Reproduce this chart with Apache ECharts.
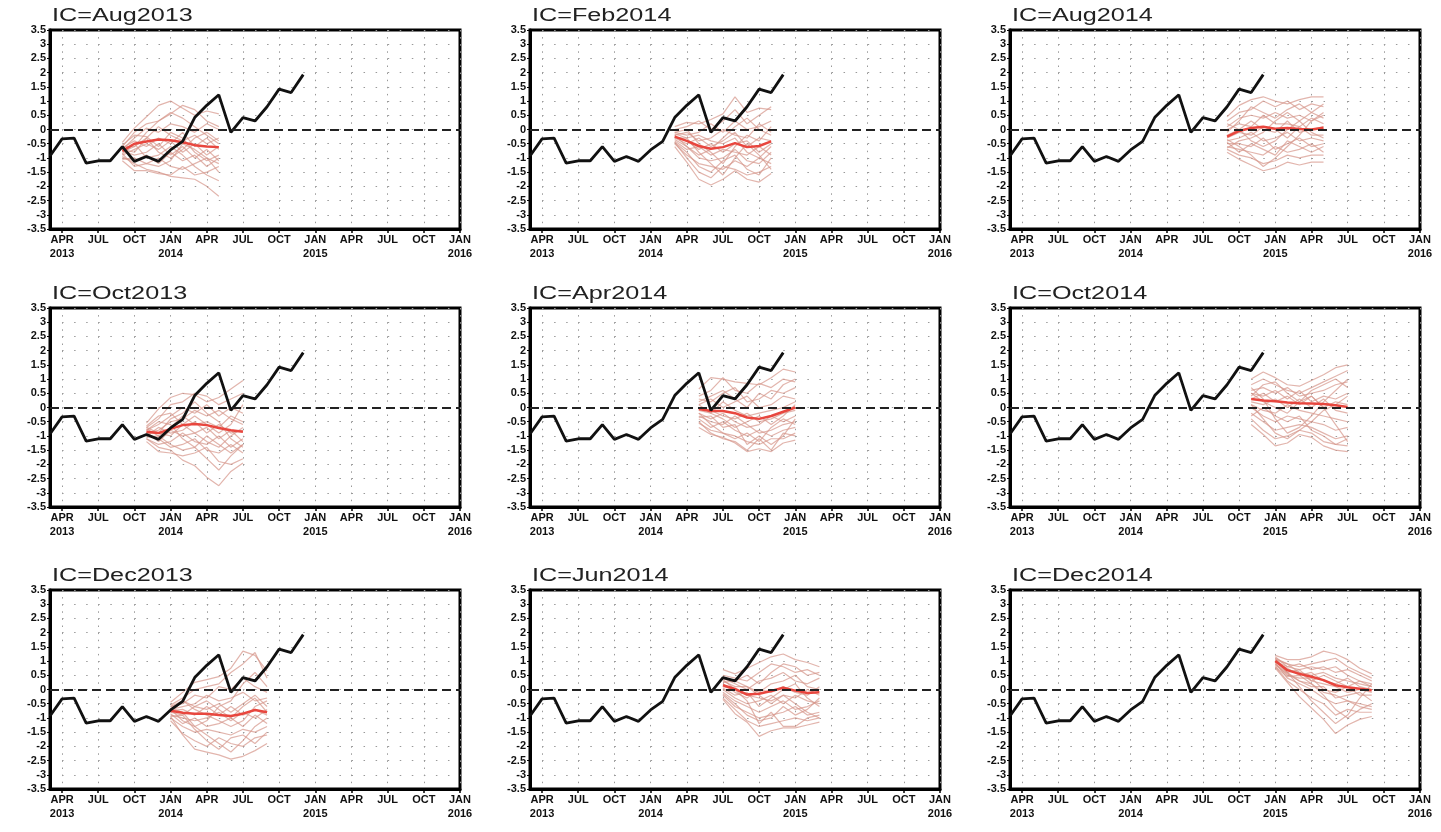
<!DOCTYPE html>
<html>
<head>
<meta charset="UTF-8">
<title>IC ensemble plumes</title>
<script src="https://cdn.jsdelivr.net/npm/echarts@6/dist/echarts.min.js"></script>
<style>
  html, body { margin: 0; padding: 0; background: #fff; }
  #main { width: 1441px; height: 832px; }
</style>
</head>
<body>
<div id="main"></div>
<script>
// months on the x axis, Mar 2013 .. Jan 2016
var months = ['Mar2013','Apr2013','May2013','Jun2013','Jul2013','Aug2013','Sep2013','Oct2013','Nov2013','Dec2013',
  'Jan2014','Feb2014','Mar2014','Apr2014','May2014','Jun2014','Jul2014','Aug2014','Sep2014','Oct2014','Nov2014','Dec2014',
  'Jan2015','Feb2015','Mar2015','Apr2015','May2015','Jun2015','Jul2015','Aug2015','Sep2015','Oct2015','Nov2015','Dec2015',
  'Jan2016'];
// labels shown at every 3rd month starting with Apr 2013
var tickLabels = ['APR\n2013','JUL','OCT','JAN\n2014','APR','JUL','OCT','JAN\n2015','APR','JUL','OCT','JAN\n2016'];

// observed index, Mar 2013 .. Dec 2014
var obs = [-0.93, -0.33, -0.30, -1.18, -1.10, -1.10, -0.60, -1.12, -0.95, -1.12, -0.72,
  -0.42, 0.42, 0.85, 1.22, -0.10, 0.42, 0.30, 0.80, 1.42, 1.30, 1.93];

// panels in reading order, first forecast month index into months
var icNames = ['IC=Aug2013','IC=Feb2014','IC=Aug2014','IC=Oct2013','IC=Apr2014','IC=Oct2014','IC=Dec2013','IC=Jun2014','IC=Dec2014'];
var icStart = [6, 12, 18, 8, 14, 20, 10, 16, 22];

// ensemble means (9 lead months)
var meanAug2013 = [-0.75, -0.5, -0.42, -0.35, -0.38, -0.45, -0.55, -0.6, -0.62];
var meanOct2013 = [-0.85, -0.9, -0.75, -0.62, -0.58, -0.62, -0.72, -0.8, -0.85];
var meanDec2013 = [-0.75, -0.82, -0.85, -0.85, -0.9, -0.93, -0.85, -0.72, -0.8];
var meanFeb2014 = [-0.25, -0.4, -0.58, -0.68, -0.62, -0.48, -0.62, -0.58, -0.42];
var meanApr2014 = [-0.05, -0.12, -0.12, -0.2, -0.35, -0.4, -0.3, -0.15, 0.0];
var meanJun2014 = [0.15, 0.02, -0.18, -0.15, -0.05, 0.06, -0.04, -0.12, -0.1];
var meanAug2014 = [-0.25, -0.05, 0.05, 0.1, 0.03, 0.05, 0.02, 0.0, 0.06];
var meanOct2014 = [0.3, 0.25, 0.22, 0.18, 0.15, 0.14, 0.12, 0.08, 0.02];
var meanDec2014 = [1.0, 0.68, 0.55, 0.45, 0.33, 0.15, 0.08, 0.03, -0.03];

// ensemble members (estimated from the plume)
var membersAug2013 = [
  [-0.45, 0.05, 0.45, 0.85, 1.0, 0.75, 0.5, 0.65, 0.55],
  [-0.6, -0.1, 0.2, 0.3, 0.55, 0.85, 0.7, 0.3, 0.1],
  [-0.7, -0.3, 0.05, -0.1, 0.2, 0.1, -0.1, 0.2, 0.0],
  [-0.8, -0.6, -0.3, 0.1, -0.2, -0.4, -0.2, -0.5, -0.3],
  [-0.65, -0.4, -0.6, -0.3, -0.5, -0.1, -0.6, -0.3, -0.7],
  [-0.9, -0.7, -0.5, -0.7, -0.4, -0.8, -0.5, -0.9, -0.6],
  [-0.75, -0.9, -0.8, -0.5, -0.9, -0.6, -1.0, -0.7, -1.1],
  [-1.0, -1.1, -0.9, -1.2, -0.8, -1.1, -0.9, -1.3, -1.0],
  [-0.85, -1.3, -1.2, -1.0, -1.3, -1.4, -1.2, -1.0, -1.5],
  [-1.1, -1.45, -1.45, -1.55, -1.6, -1.3, -1.6, -1.5, -1.3],
  [-0.95, -1.2, -1.4, -1.5, -1.65, -1.7, -1.75, -2.0, -2.35],
  [-0.55, -0.2, -0.25, -0.6, -0.1, -0.3, -0.8, -1.1, -0.9],
  [-0.7, -0.8, -0.3, -0.8, -1.0, -0.7, -0.3, -0.1, -0.4],
  [-0.85, -0.5, -1.0, -0.9, -0.6, -0.9, -1.3, -1.6, -1.8],
  [-0.6, -0.6, -0.1, 0.3, 0.6, 0.4, 0.1, -0.2, -0.5],
  [-1.05, -1.0, -1.2, -1.3, -1.1, -0.5, -0.7, -1.0, -1.2]
];
var membersOct2013 = [
  [-0.55, -0.05, 0.35, 0.5, 0.45, 0.2, 0.35, 0.65, 0.95],
  [-0.7, -0.4, 0.1, 0.2, 0.5, 0.4, 0.1, 0.3, 0.5],
  [-0.8, -0.6, -0.3, 0.0, -0.2, 0.1, -0.3, 0.0, -0.2],
  [-0.9, -0.8, -0.5, -0.4, -0.1, -0.3, -0.1, -0.4, -0.6],
  [-0.75, -1.0, -0.7, -0.3, -0.6, -0.5, -0.7, -0.3, -0.5],
  [-1.0, -0.7, -0.9, -0.8, -0.5, -0.9, -0.6, -0.9, -0.8],
  [-0.85, -1.2, -0.8, -1.0, -0.9, -0.7, -1.1, -0.8, -1.2],
  [-1.1, -1.3, -1.2, -0.9, -1.2, -1.3, -1.0, -1.4, -1.1],
  [-0.95, -1.1, -1.4, -1.3, -1.1, -1.5, -1.6, -1.3, -1.6],
  [-1.2, -1.55, -1.6, -1.7, -1.6, -1.4, -1.9, -2.0, -1.8],
  [-1.1, -1.4, -1.5, -1.85, -2.05, -2.45, -2.75, -2.25, -1.95],
  [-0.65, -0.3, -0.2, -0.6, -0.9, -1.2, -1.4, -1.0, -0.7],
  [-0.8, -0.5, -0.6, -1.1, -1.4, -1.8, -2.2, -1.7, -1.3],
  [-0.9, -0.9, -1.0, -0.6, -0.3, -0.6, -0.9, -0.6, 0.1],
  [-0.7, -0.9, -0.4, -0.2, 0.2, -0.2, -0.5, -1.1, -1.4],
  [-1.05, -1.0, -1.3, -1.5, -1.4, -1.0, -1.3, -1.6, -1.3]
];
var membersDec2013 = [
  [-0.45, -0.1, 0.25, 0.35, 0.45, 0.75, 1.35, 1.2, 0.65],
  [-0.55, -0.3, 0.0, 0.1, 0.2, 0.6, 0.9, 1.3, 0.4],
  [-0.6, -0.5, -0.2, -0.3, 0.1, 0.0, 0.4, 0.1, -0.1],
  [-0.7, -0.6, -0.5, -0.2, -0.4, -0.3, -0.1, -0.4, -0.3],
  [-0.8, -0.9, -0.6, -0.7, -0.5, -0.8, -0.5, -0.2, -0.6],
  [-0.75, -0.7, -0.9, -0.6, -0.9, -0.6, -0.9, -0.7, -0.9],
  [-0.9, -1.0, -1.1, -1.0, -0.8, -1.1, -0.8, -1.0, -0.7],
  [-0.85, -1.2, -1.0, -1.3, -1.2, -1.0, -1.3, -0.9, -1.2],
  [-1.0, -1.3, -1.5, -1.4, -1.5, -1.6, -1.4, -1.5, -1.3],
  [-1.1, -1.55, -1.8, -2.0, -1.7, -1.9, -2.0, -1.7, -1.6],
  [-0.95, -1.6, -2.1, -2.2, -2.3, -2.45, -2.35, -2.15, -1.9],
  [-0.65, -0.8, -1.3, -1.6, -1.9, -2.2, -1.8, -1.3, -1.0],
  [-0.8, -0.4, -0.7, -0.9, -1.1, -1.3, -1.1, -0.6, -0.4],
  [-0.7, -1.1, -1.3, -1.1, -0.6, -0.4, 0.2, 0.6, 0.1],
  [-0.95, -0.9, -1.4, -1.8, -2.1, -1.7, -1.6, -1.9, -1.5],
  [-0.6, -0.4, -0.6, -0.4, -0.7, -1.0, -0.6, -0.3, -0.8]
];
var membersFeb2014 = [
  [0.1, 0.25, 0.2, 0.35, 0.55, 1.15, 0.6, 0.75, 0.7],
  [0.0, 0.1, 0.3, 0.0, 0.3, 0.7, 0.2, 0.5, 0.8],
  [-0.1, -0.2, -0.1, 0.2, -0.1, 0.3, 0.0, 0.1, 0.3],
  [-0.2, -0.1, -0.4, -0.3, 0.0, -0.2, -0.3, 0.2, -0.1],
  [-0.3, -0.5, -0.3, -0.6, -0.4, -0.1, -0.6, -0.3, -0.4],
  [-0.25, -0.4, -0.7, -0.5, -0.8, -0.5, -0.4, -0.8, -0.5],
  [-0.4, -0.7, -0.6, -0.9, -0.7, -0.8, -0.9, -0.6, -0.9],
  [-0.35, -0.6, -1.0, -1.1, -1.0, -0.7, -1.1, -1.2, -0.8],
  [-0.5, -0.9, -1.2, -1.3, -1.4, -1.1, -1.3, -1.0, -1.2],
  [-0.45, -1.0, -1.5, -1.7, -1.3, -1.4, -1.6, -1.5, -1.3],
  [-0.6, -1.15, -1.75, -1.95, -1.75, -1.45, -1.75, -1.85, -1.55],
  [-0.15, -0.3, -0.8, -1.2, -1.6, -1.0, -0.5, -0.9, -1.4],
  [-0.3, -0.3, -0.2, -0.4, -0.5, -0.3, -0.8, -1.0, -0.6],
  [-0.2, -0.6, -0.9, -0.7, -0.3, 0.1, 0.4, 0.0, -0.2],
  [-0.45, -0.8, -1.3, -1.5, -1.1, -0.9, -1.4, -1.6, -1.0],
  [-0.1, 0.0, -0.5, -0.8, -1.2, -0.6, -0.2, -0.4, 0.1]
];
var membersApr2014 = [
  [0.65, 1.05, 1.0, 0.9, 0.85, 0.8, 1.05, 1.35, 1.25],
  [0.4, 0.6, 1.05, 0.6, 0.5, 0.85, 0.7, 1.0, 0.9],
  [0.3, 0.2, 0.5, 0.7, 0.2, 0.3, 0.6, 0.5, 0.7],
  [0.1, 0.3, 0.0, 0.2, 0.4, 0.0, 0.1, 0.4, 0.3],
  [-0.1, -0.2, 0.2, -0.1, -0.3, -0.2, -0.1, 0.0, 0.2],
  [0.0, -0.1, -0.3, -0.4, -0.2, -0.5, -0.4, -0.2, -0.1],
  [-0.2, -0.4, -0.2, -0.5, -0.7, -0.6, -0.3, -0.5, -0.3],
  [-0.3, -0.5, -0.6, -0.3, -0.6, -0.9, -0.8, -0.6, -0.5],
  [-0.4, -0.7, -0.5, -0.8, -1.0, -0.8, -1.0, -0.8, -0.7],
  [-0.55, -0.8, -0.9, -1.0, -1.2, -1.3, -1.1, -1.1, -0.9],
  [-0.7, -0.95, -1.05, -1.25, -1.55, -1.45, -1.55, -1.25, -1.15],
  [-0.5, -0.9, -1.1, -1.2, -1.5, -1.1, -1.5, -0.9, -1.0],
  [0.2, 0.4, 0.6, 0.3, 0.0, 0.5, 0.3, 0.8, 1.0],
  [-0.2, -0.6, -0.9, -1.1, -0.9, -1.2, -0.7, -0.4, -0.6],
  [0.1, -0.2, -0.4, -0.7, -0.5, -0.3, -0.6, -0.3, 0.1],
  [-0.35, -0.3, -0.7, -0.6, -1.3, -1.0, -1.3, -1.0, -0.4]
];
var membersJun2014 = [
  [0.7, 0.55, 0.75, 0.95, 1.15, 1.25, 1.05, 0.95, 0.8],
  [0.5, 0.4, 0.3, 0.6, 0.9, 0.8, 0.6, 0.7, 0.5],
  [0.4, 0.2, 0.0, 0.3, 0.4, 0.6, 0.3, 0.2, 0.4],
  [0.3, 0.1, 0.1, -0.1, 0.2, 0.3, 0.5, 0.1, 0.0],
  [0.2, -0.1, -0.3, 0.0, -0.1, 0.1, -0.1, -0.2, 0.1],
  [0.1, 0.0, -0.2, -0.3, -0.4, -0.2, -0.3, 0.0, -0.2],
  [0.0, -0.3, -0.5, -0.4, -0.2, -0.5, -0.2, -0.4, -0.5],
  [-0.1, -0.4, -0.6, -0.8, -0.6, -0.4, -0.7, -0.6, -0.4],
  [-0.2, -0.6, -0.8, -1.0, -0.9, -0.8, -0.6, -0.9, -0.8],
  [-0.3, -0.7, -1.1, -1.3, -1.2, -1.1, -1.0, -1.1, -1.0],
  [-0.35, -0.85, -1.15, -1.65, -1.45, -1.35, -1.35, -1.25, -1.15],
  [0.35, 0.0, -0.4, -1.2, -0.8, -1.3, -1.3, -1.0, -0.9],
  [0.25, 0.3, 0.5, 0.2, 0.6, 0.9, 0.8, 0.5, 0.6],
  [0.05, -0.2, -0.1, -0.6, -0.3, 0.0, 0.2, -0.3, -0.6],
  [-0.15, -0.5, -0.9, -1.1, -1.0, -0.6, -0.9, -0.7, -0.3],
  [0.45, 0.3, 0.1, -0.2, -0.5, -0.2, -0.5, -0.8, -1.0]
];
var membersAug2014 = [
  [0.45, 0.85, 1.05, 1.15, 1.0, 0.9, 1.05, 1.15, 1.15],
  [0.3, 0.6, 0.7, 1.0, 0.8, 1.0, 0.7, 0.9, 0.8],
  [0.1, 0.4, 0.5, 0.4, 0.6, 0.4, 0.5, 0.3, 0.6],
  [0.0, 0.2, 0.1, 0.5, 0.2, 0.2, 0.1, 0.4, 0.2],
  [-0.2, 0.0, 0.3, 0.0, -0.1, 0.3, -0.1, 0.0, 0.1],
  [-0.3, -0.1, -0.2, 0.1, 0.0, -0.3, 0.1, -0.2, -0.2],
  [-0.4, -0.3, -0.1, -0.4, -0.3, -0.1, -0.4, -0.3, -0.4],
  [-0.5, -0.5, -0.6, -0.3, -0.7, -0.5, -0.3, -0.6, -0.5],
  [-0.6, -0.7, -0.8, -0.9, -0.6, -0.8, -0.7, -0.5, -0.8],
  [-0.7, -0.9, -1.0, -1.2, -1.1, -0.9, -1.0, -0.9, -0.9],
  [-0.8, -1.05, -1.25, -1.45, -1.35, -1.15, -1.25, -1.15, -1.15],
  [-0.35, -0.6, -0.9, -1.3, -1.0, -0.6, -0.2, 0.3, 0.5],
  [-0.1, 0.3, 0.8, 0.6, 0.4, 0.7, 0.9, 0.6, 0.4],
  [-0.45, -0.8, -0.5, -0.7, -0.9, -0.4, -0.6, -0.8, -0.6],
  [0.2, 0.0, -0.4, -0.6, -0.4, 0.0, 0.3, 0.6, 0.9],
  [-0.65, -0.4, -0.3, -0.1, 0.3, 0.6, 0.3, -0.1, -0.3]
];
var membersOct2014 = [
  [1.0, 1.25, 1.05, 0.8, 0.75, 0.95, 1.15, 1.4, 1.5],
  [0.8, 1.0, 0.8, 0.6, 0.5, 0.7, 0.9, 1.1, 1.3],
  [0.6, 0.7, 0.5, 0.7, 0.4, 0.5, 0.6, 0.8, 0.9],
  [0.5, 0.4, 0.6, 0.3, 0.6, 0.2, 0.4, 0.3, 0.5],
  [0.3, 0.5, 0.2, 0.4, 0.1, 0.4, 0.0, 0.2, 0.1],
  [0.2, 0.1, 0.3, 0.0, 0.3, 0.0, 0.3, -0.1, -0.2],
  [0.1, -0.1, -0.2, 0.1, -0.1, -0.2, -0.3, -0.4, -0.5],
  [0.0, -0.3, -0.5, -0.3, -0.4, -0.5, -0.6, -0.8, -0.7],
  [-0.2, -0.5, -0.8, -0.7, -0.6, -0.7, -0.9, -1.1, -1.0],
  [-0.4, -0.8, -1.1, -1.0, -0.8, -0.9, -1.2, -1.3, -1.35],
  [-0.6, -0.95, -1.35, -1.25, -0.95, -1.05, -1.35, -1.5, -1.55],
  [0.7, 0.3, -0.4, -0.9, -0.7, -0.3, 0.2, 0.6, 1.0],
  [0.4, 0.8, 0.9, 0.5, 0.2, 0.6, 0.8, 1.0, 0.7],
  [0.1, -0.4, -0.9, -1.1, -0.8, -0.5, -0.1, 0.1, 0.4],
  [0.5, 0.2, 0.0, -0.2, 0.2, 0.4, 0.0, -0.6, -1.2],
  [-0.3, 0.0, -0.3, -0.5, -0.3, -0.8, -1.0, -1.3, -1.1]
];
var membersDec2014 = [
  [1.2, 1.05, 1.05, 1.15, 1.35, 1.25, 1.05, 0.75, 0.55],
  [1.1, 0.9, 0.8, 0.9, 1.0, 1.1, 0.8, 0.6, 0.4],
  [1.15, 0.8, 0.9, 0.7, 0.8, 0.6, 0.7, 0.5, 0.3],
  [1.05, 0.7, 0.6, 0.5, 0.6, 0.4, 0.3, 0.2, 0.1],
  [0.95, 0.75, 0.5, 0.6, 0.3, 0.2, 0.4, 0.1, 0.0],
  [1.0, 0.6, 0.7, 0.3, 0.2, 0.1, -0.1, 0.0, -0.1],
  [0.9, 0.5, 0.4, 0.4, 0.0, -0.1, 0.1, -0.2, -0.2],
  [0.85, 0.55, 0.3, 0.1, 0.1, -0.3, -0.2, -0.1, -0.4],
  [0.95, 0.4, 0.2, 0.0, -0.3, -0.5, -0.4, -0.5, -0.6],
  [0.8, 0.3, 0.0, -0.3, -0.5, -0.9, -0.7, -0.8, -0.8],
  [0.75, 0.25, -0.25, -0.65, -1.05, -1.55, -1.25, -1.05, -0.95],
  [1.1, 0.6, 0.1, -0.4, -0.8, -1.2, -0.9, -0.3, 0.2],
  [1.0, 0.8, 0.7, 0.8, 0.7, 0.8, 0.5, 0.3, 0.2],
  [0.9, 0.6, 0.3, 0.2, -0.1, -0.2, -0.4, -0.6, -0.7],
  [1.05, 0.9, 0.6, 0.3, 0.5, 0.3, 0.1, 0.3, 0.1],
  [0.8, 0.45, 0.5, 0.2, -0.2, -0.7, -1.0, -0.7, -0.5]
];

var means = [meanAug2013, meanFeb2014, meanAug2014, meanOct2013, meanApr2014, meanOct2014, meanDec2013, meanJun2014, meanDec2014];
var members = [membersAug2013, membersFeb2014, membersAug2014, membersOct2013, membersApr2014, membersOct2014, membersDec2013, membersJun2014, membersDec2014];

var chart = echarts.init(document.getElementById('main'));

var colLeft = [50, 530, 1010];
var rowTop = [30, 308, 590];
var plotW = 410, plotH = 199;

function isTick(i) { return i % 3 === 1; }
function toPairs(values, start) {
  return values.map(function (v, i) { return [months[start + i], v]; });
}

var grids = [], xAxes = [], yAxes = [], series = [], graphics = [];

icNames.forEach(function (name, k) {
  var left = colLeft[k % 3], top = rowTop[Math.floor(k / 3)];
  grids.push({ left: left, top: top, width: plotW, height: plotH, show: true,
    borderColor: '#000', borderWidth: 3, backgroundColor: '#fff' });

  xAxes.push({
    type: 'category', gridIndex: k, data: months, boundaryGap: false,
    axisLine: { show: true, onZero: false, lineStyle: { color: '#000', width: 3 } },
    axisTick: { show: true, interval: function (i) { return isTick(i); }, length: 4, lineStyle: { color: '#000', width: 1.5 } },
    axisLabel: {
      interval: function (i) { return isTick(i); },
      formatter: function (v, i) { return isTick(i) ? tickLabels[(i - 1) / 3] : ''; },
      fontFamily: 'Liberation Sans', fontWeight: 'bold', fontSize: 11, color: '#111',
      lineHeight: 14, margin: 4
    },
    splitLine: { show: true, interval: function (i) { return isTick(i); },
      lineStyle: { color: '#9a9a9a', width: 1, type: [1.5, 5.6] } }
  });

  yAxes.push({
    type: 'value', gridIndex: k, min: -3.5, max: 3.5, interval: 0.5,
    axisLine: { show: true, onZero: false, lineStyle: { color: '#000', width: 3 } },
    axisTick: { show: true, length: 3, lineStyle: { color: '#000', width: 1 } },
    axisLabel: { fontFamily: 'Liberation Sans', fontWeight: 'bold', fontSize: 11, color: '#111', margin: 4,
      formatter: function (v) { return String(v); } },
    splitLine: { show: true, lineStyle: { color: '#9a9a9a', width: 1, type: [1.5, 10.56] } }
  });

  members[k].forEach(function (m) {
    series.push({
      type: 'line', xAxisIndex: k, yAxisIndex: k, data: toPairs(m, icStart[k]),
      symbol: 'none', silent: true, z: 2,
      lineStyle: { color: 'rgba(214,150,138,0.7)', width: 1.2 }
    });
  });

  series.push({
    type: 'line', xAxisIndex: k, yAxisIndex: k, data: toPairs(means[k], icStart[k]),
    symbol: 'none', silent: true, z: 3,
    lineStyle: { color: '#e8463e', width: 2.5 }
  });

  series.push({
    type: 'line', xAxisIndex: k, yAxisIndex: k, data: toPairs(obs, 0),
    symbol: 'none', silent: true, z: 4,
    lineStyle: { color: '#111', width: 2.8 },
    markLine: {
      silent: true, symbol: ['none', 'none'], label: { show: false },
      lineStyle: { color: '#222', type: [9, 5], width: 1.8 },
      data: [{ yAxis: 0 }]
    }
  });

  graphics.push({
    type: 'text', x: left + 2, y: top - 23, scaleX: 1.4, z: 10,
    style: { text: name, font: '18px "Liberation Sans"', fill: '#222', verticalAlign: 'top', textVerticalAlign: 'top' }
  });
});

chart.setOption({
  animation: false,
  backgroundColor: '#fff',
  grid: grids,
  xAxis: xAxes,
  yAxis: yAxes,
  series: series,
  graphic: graphics
});
</script>
</body>
</html>
